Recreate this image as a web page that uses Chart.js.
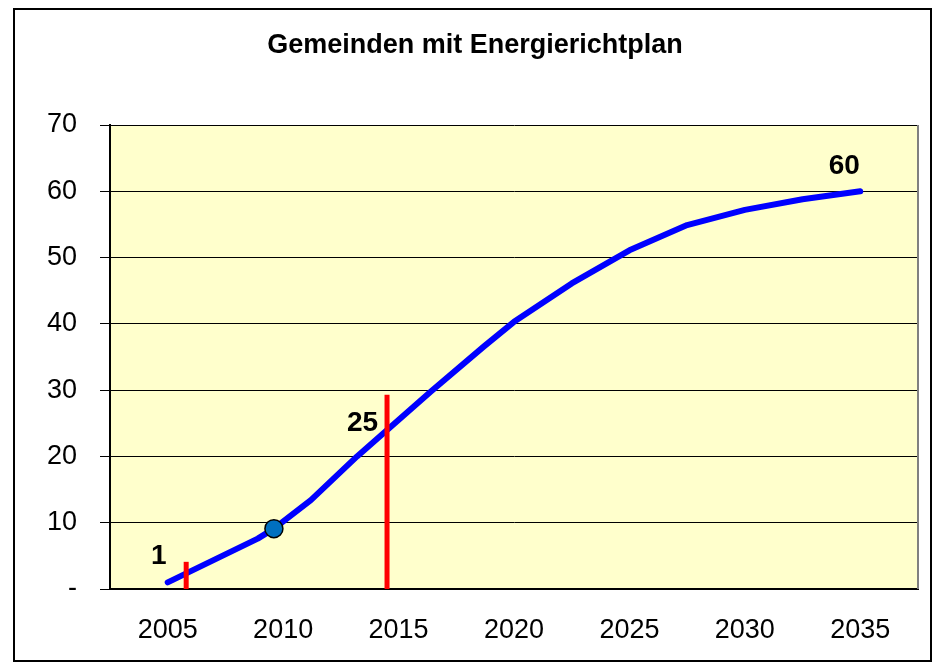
<!DOCTYPE html>
<html>
<head>
<meta charset="utf-8">
<title>Gemeinden mit Energierichtplan</title>
<script src="https://cdn.jsdelivr.net/npm/chart.js@4/dist/chart.umd.min.js"></script>
<style>
  body { margin: 0; background: #fff; }
  #wrap { width: 934px; height: 664px; }
</style>
</head>
<body>
<div id="wrap"><canvas id="myChart" width="934" height="664"></canvas></div>
<script>
// Werte
const jahre = [2005, 2008.9, 2009.6, 2011.2, 2013.2, 2016.4, 2018.7, 2020, 2022.5, 2025, 2027.5, 2030, 2032.5, 2035];
const gemeinden = [1, 7.6, 9.1, 13.4, 20, 29.8, 36.6, 40.3, 46.1, 51.1, 54.9, 57.2, 58.8, 60];
const markerJahr = [2009.6];
const markerWert = [9.1];
const roteLinienJahr = [2005.8, 2014.5];
const roteLinienHoehe = [4.1, 29.3];
const xTicks = [2005, 2010, 2015, 2020, 2025, 2030, 2035];
const yTicks = [0, 10, 20, 30, 40, 50, 60, 70];
const beschriftungText = ["1", "25", "60"];
const beschriftungJahr = [2005, 2014.5, 2035];
const beschriftungWert = [1, 25, 60];

const schrift = "'Liberation Sans', Arial, sans-serif";

const hintergrund = {
	id: "hintergrund",
	beforeDraw(chart) {
		const { ctx, chartArea: a } = chart;
		ctx.save();
		ctx.fillStyle = "#fff";
		ctx.fillRect(0, 0, chart.width, chart.height);
		ctx.fillStyle = "#FFFFCC";
		ctx.fillRect(a.left, a.top, a.right - a.left, a.bottom - a.top);
		ctx.strokeStyle = "#000";
		ctx.lineWidth = 2;
		ctx.strokeRect(14, 9, 917, 652);
		ctx.restore();
	},
	afterDraw(chart) {
		const { ctx, chartArea: a } = chart;
		ctx.save();
		ctx.strokeStyle = "#808080";
		ctx.lineWidth = 2;
		ctx.beginPath();
		ctx.moveTo(a.right, a.top);
		ctx.lineTo(a.right, a.bottom);
		ctx.stroke();
		ctx.restore();
	},
};

// Offsets der Zahlen relativ zum Bezugspunkt (Pixel)
const beschriftungOffset = [[-9, -26, "center"], [-9, 0, "right"], [-16, -25, "center"]];
const beschriftungen = {
	id: "beschriftungen",
	afterDatasetsDraw(chart) {
		const { ctx, scales } = chart;
		ctx.save();
		ctx.fillStyle = "#000";
		ctx.font = "bold 28px " + schrift;
		ctx.textBaseline = "middle";
		beschriftungText.forEach((t, i) => {
			const [dx, dy, align] = beschriftungOffset[i];
			ctx.textAlign = align;
			ctx.fillText(t, scales.x.getPixelForValue(beschriftungJahr[i]) + dx, scales.y.getPixelForValue(beschriftungWert[i]) + dy);
		});
		ctx.restore();
	},
};

function roteLinie(i) {
	return {
		data: [{ x: roteLinienJahr[i], y: 0 }, { x: roteLinienJahr[i], y: roteLinienHoehe[i] }],
		borderColor: "#FF0000",
		borderWidth: 5,
		pointRadius: 0,
		showLine: true,
		borderCapStyle: "butt",
	};
}

new Chart(document.getElementById("myChart"), {
	type: "scatter",
	data: {
		datasets: [
			{
				data: markerJahr.map((x, i) => ({ x, y: markerWert[i] })),
				pointRadius: 9,
				pointBackgroundColor: "#0070C0",
				pointBorderColor: "#000",
				pointBorderWidth: 1.5,
				showLine: false,
			},
			roteLinie(0),
			roteLinie(1),
			{
				data: jahre.map((x, i) => ({ x, y: gemeinden[i] })),
				borderColor: "#0000FF",
				borderWidth: 6,
				pointRadius: 0,
				showLine: true,
				tension: 0,
				borderCapStyle: "round",
				borderJoinStyle: "round",
			},
		],
	},
	options: {
		responsive: false,
		animation: false,
		layout: { padding: { left: 32, right: 16, bottom: 15, top: 0 } },
		plugins: {
			legend: { display: false },
			tooltip: { enabled: false },
			title: {
				display: true,
				text: "Gemeinden mit Energierichtplan",
				color: "#000",
				font: { family: schrift, size: 27, weight: "bold" },
				padding: { top: 29.8, bottom: 62.8 },
			},
		},
		scales: {
			x: {
				type: "linear",
				min: 2002.5,
				max: 2037.5,
				afterBuildTicks: (s) => { s.ticks = xTicks.map((v) => ({ value: v })); },
				afterFit: (s) => { s.height = 60; },
				grid: { display: false },
				border: { display: true, color: "#000", width: 2 },
				ticks: { color: "#000", font: { family: schrift, size: 27 }, padding: 17, maxRotation: 0, autoSkip: false, callback: (v) => String(v) },
			},
			y: {
				min: 0,
				max: 70,
				afterBuildTicks: (s) => { s.ticks = yTicks.map((v) => ({ value: v })); },
				afterFit: (s) => { s.width = 78; },
				grid: { color: "#000", lineWidth: 1, tickLength: 10 },
				border: { display: true, color: "#000", width: 2 },
				ticks: { color: "#000", font: { family: schrift, size: 27 }, padding: 23, callback: (v) => (v === 0 ? "-" : String(v)) },
			},
		},
	},
	plugins: [hintergrund, beschriftungen],
});
</script>
</body>
</html>
